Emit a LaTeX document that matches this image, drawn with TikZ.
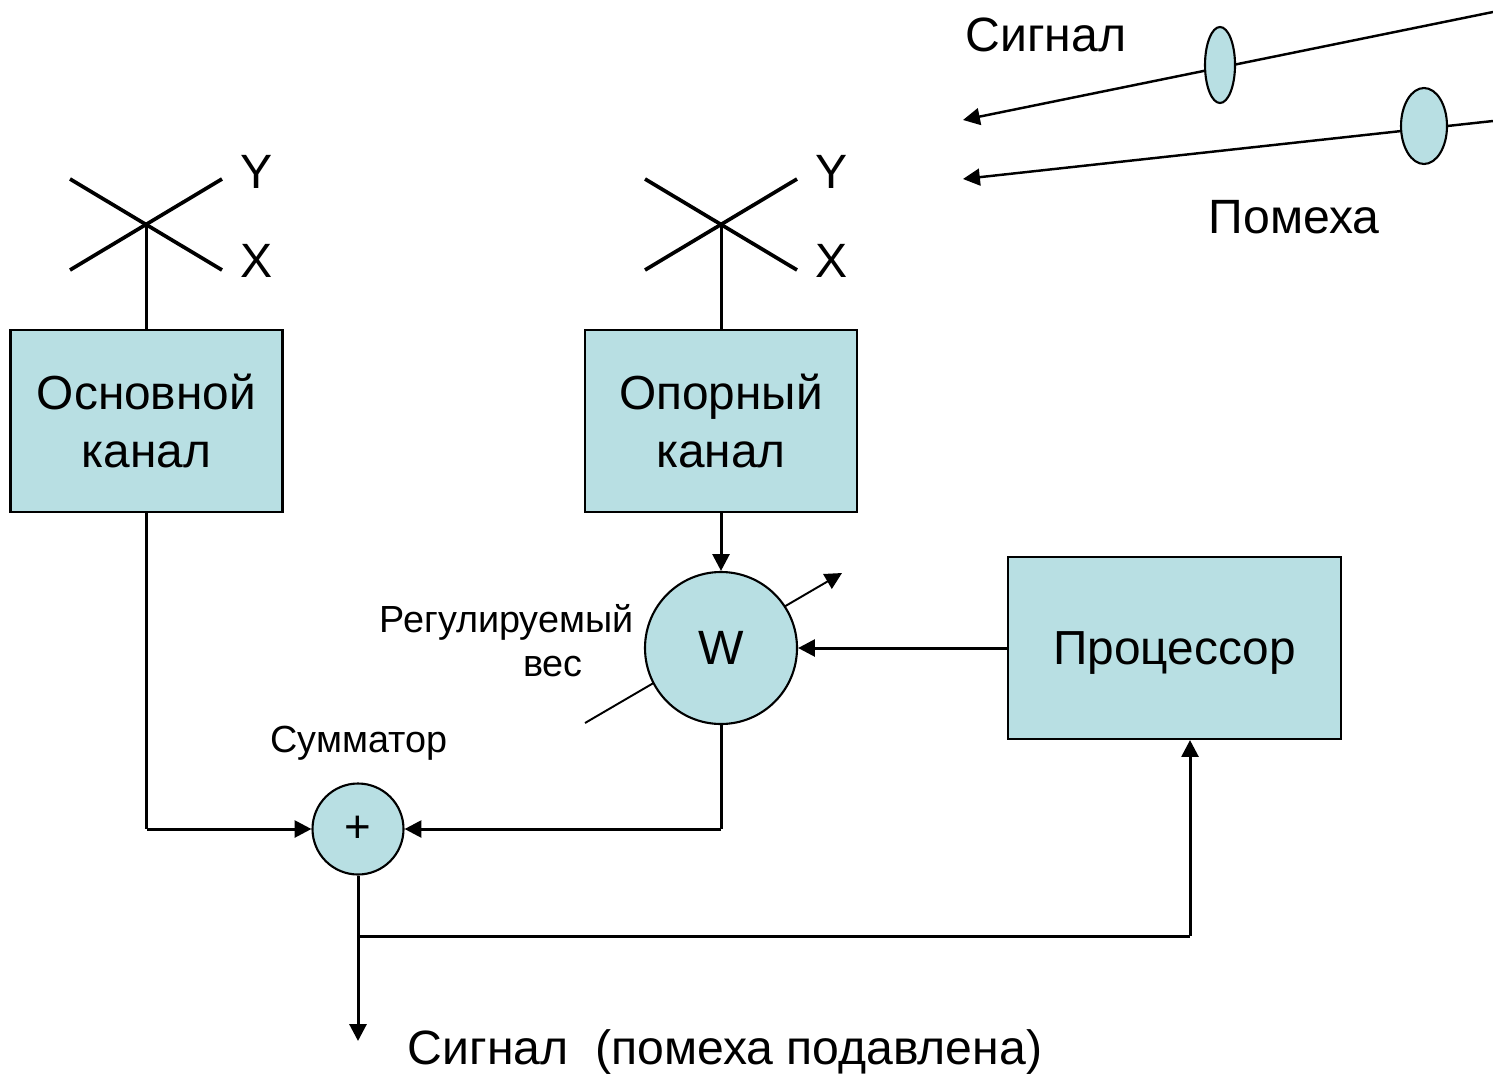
\documentclass[tikz,border=0pt]{standalone}
\usepackage{fontspec}
\setmainfont{Liberation Sans}
\usetikzlibrary{arrows.meta}
\usetikzlibrary{shapes.geometric}
\definecolor{lightcyan}{RGB}{184,223,227}
\tikzset{
  blockbox/.style={draw,fill=lightcyan,line width=0.6pt,minimum height=1.82cm,align=center,font=\fontsize{13.6}{16.5}\selectfont},
  roundnode/.style={draw,circle,fill=lightcyan,line width=0.6pt,inner sep=0pt},
  beam/.style={draw,ellipse,fill=lightcyan,line width=0.6pt,inner sep=0pt},
  wire/.style={line width=0.85pt},
  arrowwire/.style={line width=0.85pt,-{Triangle[length=4.8pt,width=4.8pt]}},
  antenna/.style={line width=1.05pt},
  bigtext/.style={font=\fontsize{13.7}{16}\selectfont},
  smalltext/.style={font=\fontsize{10.75}{13}\selectfont},
}
\begin{document}
\begin{tikzpicture}
        \useasboundingbox (0,0) rectangle (14.93,10.73);
        % beams
        \coordinate (sigstart) at (14.93,10.61);
        \coordinate (sigend) at (9.63,9.53);
        \coordinate (noisestart) at (14.93,9.52);
        \coordinate (noiseend) at (9.63,8.94);
        \draw[arrowwire,line width=0.7pt] (sigstart) -- (sigend);
        \draw[arrowwire,line width=0.7pt] (noisestart) -- (noiseend);
        \node[beam,minimum width=0.3cm,minimum height=0.76cm] (sigfilter) at (12.2,10.08){};
        \node[beam,minimum width=0.46cm,minimum height=0.76cm] (noisefilter) at (14.24,9.47){};
        \node[bigtext] (siglabel) at (10.46,10.38) {Сигнал};
        \node[bigtext] (noiselabel) at (12.94,8.56) {Помеха};

        % antennas
        \coordinate (a1) at (0.7,8.94);
        \coordinate (a2) at (2.22,8.03);
        \coordinate (a3) at (0.7,8.03);
        \coordinate (a4) at (2.22,8.94);
        \coordinate (b1) at (6.45,8.94);
        \coordinate (b2) at (7.97,8.03);
        \coordinate (b3) at (6.45,8.03);
        \coordinate (b4) at (7.97,8.94);
        \coordinate (mainfeed) at (1.465,8.49);
        \coordinate (reffeed) at (7.21,8.49);
        \draw[antenna] (a1) -- (a2);
        \draw[antenna] (a3) -- (a4);
        \draw[antenna] (b1) -- (b2);
        \draw[antenna] (b3) -- (b4);
        \node[bigtext] (ymain) at (2.57,9.01) {Y};
        \node[bigtext] (xmain) at (2.57,8.12) {X};
        \node[bigtext] (yref) at (8.32,9.01) {Y};
        \node[bigtext] (xref) at (8.32,8.12) {X};

        % blocks
        \node[blockbox,minimum width=2.72cm] (mainch) at (1.465,6.52) {Основной\\канал};
        \node[blockbox,minimum width=2.72cm] (refch) at (7.21,6.52) {Опорный\\канал};
        \node[blockbox,minimum width=3.33cm,text depth=0pt] (proc) at (11.745,4.25) {Процессор};

        % adjustable weight
        \coordinate (wlow) at (5.85,3.5);
        \coordinate (whigh) at (8.42,5.0);
        \draw[arrowwire,line width=0.55pt] (wlow) -- (whigh);
        \node[roundnode,minimum size=1.52cm,bigtext] (weight) at (7.21,4.25) {W};
        \node[roundnode,minimum size=0.91cm,font=\fontsize{13}{15}\selectfont] (adder) at (3.58,2.44) {+};
        \node[smalltext,align=right,anchor=east] (weightlabel) at (6.46,4.32) {Регулируемый\\[-0.5pt]вес\rule{0.51cm}{0pt}};
        \node[smalltext] (adderlabel) at (3.59,3.3) {Сумматор};

        % connections
        \coordinate (weightcorner) at (7.21,2.44);
        \coordinate (maincorner) at (1.465,2.44);
        \coordinate (branch) at (3.58,1.37);
        \coordinate (proccorner) at (11.9,1.37);
        \coordinate (outend) at (3.58,0.32);
        \draw[wire] (mainfeed) -- (mainch);
        \draw[wire] (reffeed) -- (refch);
        \draw[arrowwire] (refch) -- (weight);
        \draw[arrowwire] (proc) -- (weight);
        \draw[wire] (weight) -- (weightcorner);
        \draw[arrowwire] (weightcorner) -- (adder);
        \draw[wire] (mainch) -- (maincorner);
        \draw[arrowwire] (maincorner) -- (adder);
        \draw[arrowwire] (adder) -- (outend);
        \draw[wire] (branch) -- (proccorner);
        \draw[arrowwire] (proccorner) -- (proccorner |- proc.south);
        \node[bigtext] (outlabel) at (7.25,0.21) {Сигнал\ \ (помеха подавлена)};
    \end{tikzpicture}
\end{document}
